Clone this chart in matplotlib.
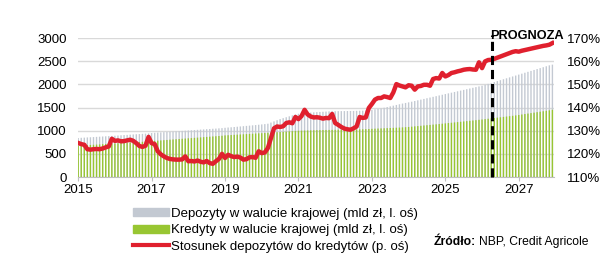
import numpy as np
import matplotlib
matplotlib.use("Agg")
import matplotlib.pyplot as plt
from matplotlib.patches import Patch
from matplotlib.lines import Line2D

plt.rcParams['font.family'] = ['Liberation Sans', 'DejaVu Sans']

# monthly data, Jan 2015 - Dec 2027
start_year = 2015
deposits = [
    842, 846, 850, 854, 858, 862, 866, 870, 874, 878, 882, 886,
    891, 896, 900, 905, 909, 914, 918, 923, 927, 932, 936, 941,
    950, 954, 959, 963, 968, 972, 977, 981, 986, 990, 995, 1000,
    1005, 1009, 1014, 1018, 1023, 1027, 1032, 1036, 1041, 1045, 1050, 1055,
    1062, 1068, 1073, 1079, 1085, 1091, 1097, 1103, 1109, 1115, 1121, 1128,
    1135, 1142, 1150, 1175, 1200, 1225, 1250, 1270, 1290, 1310, 1330, 1350,
    1365, 1372, 1378, 1384, 1390, 1395, 1400, 1404, 1408, 1412, 1416, 1420,
    1420, 1421, 1422, 1423, 1424, 1425, 1426, 1428, 1430, 1432, 1436, 1442,
    1450, 1460, 1470, 1480, 1495, 1510, 1525, 1540, 1555, 1570, 1585, 1598,
    1611, 1625, 1640, 1655, 1670, 1685, 1700, 1715, 1730, 1745, 1760, 1775,
    1790, 1805, 1820, 1835, 1850, 1865, 1880, 1895, 1910, 1925, 1940, 1955,
    1970, 1990, 2010, 2030, 2050, 2070, 2090, 2110, 2130, 2150, 2170, 2190,
    2210, 2230, 2250, 2270, 2290, 2310, 2330, 2350, 2370, 2390, 2410, 2425,
]
credits = [
    676, 680, 684, 688, 692, 696, 700, 704, 708, 712, 716, 720,
    724, 728, 732, 736, 740, 744, 748, 752, 756, 760, 765, 770,
    775, 780, 785, 790, 795, 800, 805, 810, 815, 820, 825, 830,
    835, 840, 845, 850, 855, 860, 865, 870, 875, 880, 885, 890,
    898, 902, 906, 910, 914, 918, 922, 926, 930, 934, 938, 942,
    946, 950, 954, 958, 962, 966, 970, 975, 980, 985, 990, 995,
    1000, 1002, 1004, 1006, 1008, 1010, 1012, 1013, 1014, 1015, 1016, 1017,
    1018, 1019, 1020, 1021, 1022, 1023, 1024, 1026, 1028, 1030, 1033, 1036,
    1040, 1043, 1046, 1049, 1052, 1055, 1058, 1061, 1064, 1067, 1071, 1075,
    1080, 1086, 1093, 1099, 1105, 1112, 1118, 1124, 1131, 1137, 1143, 1150,
    1157, 1164, 1171, 1178, 1185, 1192, 1199, 1206, 1213, 1220, 1227, 1234,
    1241, 1249, 1257, 1265, 1273, 1281, 1289, 1297, 1305, 1313, 1321, 1329,
    1339, 1349, 1359, 1369, 1379, 1389, 1399, 1409, 1419, 1429, 1439, 1450,
]
ratio = [
    124.7, 124.2, 123.9, 122.0, 121.8, 122.0, 122.1, 122.0, 122.3, 122.8, 123.2, 126.5,
    125.6, 125.8, 125.4, 125.5, 125.8, 126.1, 125.6, 124.6, 123.4, 123.0, 123.5, 127.3,
    124.6, 124.2, 121.1, 119.8, 118.9, 118.2, 117.8, 117.6, 117.5, 117.5, 117.6, 118.9,
    116.8, 116.9, 116.7, 117.1, 116.6, 116.3, 116.9, 116.0, 115.7, 116.8, 117.8, 120.0,
    118.2, 119.6, 119.0, 118.6, 118.8, 118.4, 117.5, 117.7, 118.5, 118.6, 118.3, 121.1,
    120.3, 120.6, 122.5, 126.8, 131.0, 131.8, 131.6, 131.9, 133.3, 133.6, 133.2, 135.9,
    135.0, 136.3, 139.0, 137.0, 136.1, 135.7, 135.8, 135.6, 135.2, 135.5, 135.4, 137.2,
    133.3, 132.5, 131.6, 130.9, 130.6, 130.4, 131.0, 131.8, 135.9, 135.5, 135.7, 139.8,
    141.5, 143.4, 144.1, 144.1, 144.8, 144.5, 144.1, 146.5, 150.1, 149.5, 149.1, 148.7,
    149.6, 149.4, 147.7, 149.1, 149.3, 149.8, 149.8, 149.4, 152.3, 152.7, 152.5, 154.9,
    153.4, 154.0, 154.9, 155.2, 155.6, 155.9, 156.3, 156.5, 156.6, 156.4, 156.3, 159.5,
    157.0, 159.9, 160.5, 160.6, 161.0, 161.5, 162.0, 162.5, 163.0, 163.5, 164.0, 164.3,
    164.1, 164.5, 164.8, 165.1, 165.4, 165.7, 166.0, 166.3, 166.6, 166.8, 167.1, 167.8,
]
forecast_start = 2026.26
year_ticks = [2015, 2017, 2019, 2021, 2023, 2025, 2027]

x = start_year + np.arange(len(deposits)) / 12.0

fig = plt.figure(figsize=(6.14, 2.64), dpi=100)
ax = fig.add_axes([78 / 614, 87 / 264, 476 / 614, 139 / 264])

grey = '#c3c9d2'
green = '#98c632'
red = '#e0202e'

ax.bar(x, deposits, width=0.45 / 12, color=grey, linewidth=0, zorder=2, snap=False)
ax.bar(x, credits, width=0.45 / 12, color=green, linewidth=0, zorder=3, snap=False)

ax.set_ylim(0, 3000)
ax.set_xlim(2015 - 0.005, 2027.96)
ax.set_yticks(range(0, 3001, 500))
ax.set_xticks(year_ticks)
ax.grid(axis='y', color='#d9d9d9', linewidth=1, zorder=0)
ax.set_axisbelow(True)
for s in ['left', 'right', 'top']:
    ax.spines[s].set_visible(False)
ax.spines['bottom'].set_color('#bfbfbf')
ax.tick_params(axis='y', length=0, labelsize=9.5, pad=8)
ax.tick_params(axis='x', length=3, color='#bfbfbf', labelsize=9.5, pad=2)

ax2 = ax.twinx()
ax2.plot(x, ratio, color=red, linewidth=3.2, solid_joinstyle='round', zorder=5)
ax2.set_ylim(110, 170)
ax2.set_yticks(range(110, 171, 10))
ax2.set_yticklabels([f'{v}%' for v in range(110, 171, 10)])
for s in ['left', 'right', 'top', 'bottom']:
    ax2.spines[s].set_visible(False)
ax2.tick_params(axis='y', length=0, labelsize=9.5, pad=9.5)

# forecast marker
ax2.plot([forecast_start, forecast_start], [110, 171.4], color='black',
         linewidth=2.2, dashes=(3, 1.6), clip_on=False, zorder=6)
ax2.text(forecast_start - 0.03, 169.6, 'PROGNOZA', fontsize=9.2, fontweight='bold',
         ha='left', va='baseline', zorder=7)

handles = [Patch(color=grey), Patch(color=green), Line2D([], [], color=red, linewidth=3)]
labels = ['Depozyty w walucie krajowej (mld zł, l. oś)',
          'Kredyty w walucie krajowej (mld zł, l. oś)',
          'Stosunek depozytów do kredytów (p. oś)']
fig.legend(handles, labels, loc='upper left', bbox_to_anchor=(133 / 614, 1 - 208 / 264),
           frameon=False, fontsize=9.5, handlelength=2.7, handleheight=0.55,
           handletextpad=0.2, labelspacing=0.33, borderpad=0, borderaxespad=0)

src_y = 1 - 242 / 264
t = fig.text(434 / 614, src_y, 'Źródło:', fontsize=8.7, fontweight='bold', va='center', ha='left')
fig.canvas.draw()
bb = t.get_window_extent()
fig.text((bb.x1 + 3) / 614, src_y, 'NBP, Credit Agricole', fontsize=8.7, va='center', ha='left')

fig.savefig('out.png', dpi=100)
